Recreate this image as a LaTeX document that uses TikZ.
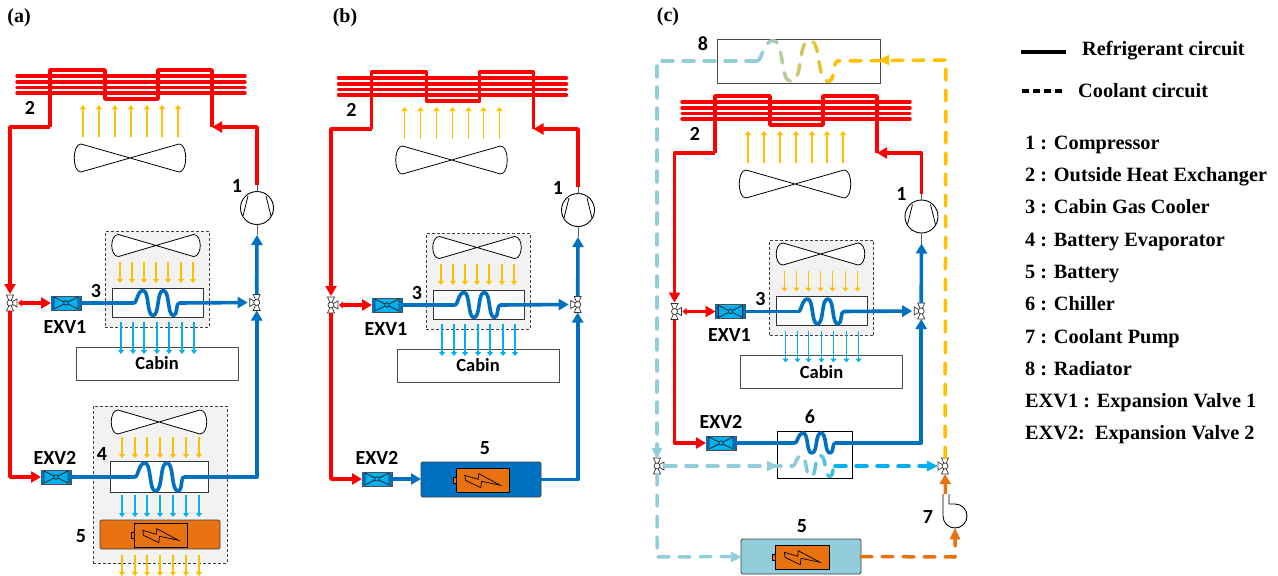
\documentclass[tikz,border=0pt]{standalone}
\usepackage{fontspec}
\setmainfont{Liberation Serif}
\newfontfamily\lblfont{Carlito}
\usetikzlibrary{arrows.meta,calc}
\definecolor{pred}{HTML}{FF0000}
\definecolor{pblue}{HTML}{0070C0}
\definecolor{pyel}{HTML}{FFC000}
\definecolor{psky}{HTML}{00B0F0}
\definecolor{plb}{HTML}{92CDDC}
\definecolor{porg}{HTML}{E97210}
\definecolor{pgray}{HTML}{F2F2F2}
\tikzset{
 redp/.style={draw=pred,line width=3.8pt,line join=round},
 bluep/.style={draw=pblue,line width=3.6pt,line join=round},
 tipR/.style={-{Triangle[length=10pt,width=11pt]}},
 tipRR/.style={{Triangle[length=4pt,width=7pt]}-{Triangle[length=10pt,width=11pt]}},
 coolp/.style={line width=3.5pt,line cap=round,line join=round,dash pattern=on 11pt off 10pt},
 yarrow/.style={draw=pyel,line width=1.5pt,-{Triangle[length=4pt,width=6pt]}},
 barrow/.style={draw=psky,line width=1.5pt,-{Triangle[length=4pt,width=6pt]}},
 lbl/.style={font=\lblfont\bfseries\fontsize{20}{20}\selectfont,inner sep=0pt},
 ttl/.style={font=\bfseries\fontsize{20}{20}\selectfont,inner sep=0pt},
 leg/.style={font=\bfseries\fontsize{20.3}{20}\selectfont,inner sep=0pt,anchor=base west},
 dbox/.style={draw=black!75,dashed,line width=.8pt,fill=pgray,dash pattern=on 3pt off 2pt},
 hxbox/.style={draw=black!80,line width=.9pt,fill=white},
 cabinbox/.style={draw=black!70,line width=.9pt,fill=white,font=\lblfont\bfseries\fontsize{18.5}{18}\selectfont},
 fanline/.style={draw=black,line width=.8pt,fill=white},
 stub/.style={draw=black!65,line width=.8pt}
}
% rectangle node by corners
\newcommand\bx[7]{%
 \pgfmathsetmacro\bxw{#4-#2}\pgfmathsetmacro\bxh{#5-#3}%
 \pgfmathsetmacro\bxx{(#4+#2)/2}\pgfmathsetmacro\bxy{(#5+#3)/2}%
 \node[#6,minimum width=\bxw pt,minimum height=\bxh pt,inner sep=0pt,outer sep=0pt] (#1) at (\bxx,\bxy) {#7};}
\newcommand\fan[4]{%
 \pgfmathsetmacro\fx{#3/2-7}\pgfmathsetmacro\fy{#4/2}\pgfmathsetmacro\fb{\fx+9}%
 \draw[fanline,shift={(#1,#2)}] (-\fx,-\fy) -- (\fx,\fy) .. controls (\fb,\fy) and (\fb,-\fy) .. (\fx,-\fy)
  -- (-\fx,\fy) .. controls (-\fb,\fy) and (-\fb,-\fy) .. (-\fx,-\fy) -- cycle;}
% valve: name,x,y,side(+1 right, -1 left)
\newcommand\valve[4]{%
 \node[minimum width=16pt,minimum height=16pt,inner sep=0pt,outer sep=0pt] (#1) at (#2,#3) {};
 \begin{scope}[shift={(#2,#3)}]
 \draw[fill=white,draw=black!80,line width=.7pt] (-3.5,-8) -- (3.5,-8) -- (0,0) -- cycle;
 \draw[fill=white,draw=black!80,line width=.7pt] (-3.5,8) -- (3.5,8) -- (0,0) -- cycle;
 \draw[fill=white,draw=black!80,line width=.7pt] (#4*7,-4) -- (#4*7,4) -- (0,0) -- cycle;
 \draw[fill=white,draw=black!80,line width=.7pt] (0,0) circle (3);
 \end{scope}}
\newcommand\exv[3]{%
 \node[draw=black!70,fill=psky,line width=.8pt,minimum width=30pt,minimum height=14pt,inner sep=0pt,outer sep=0pt] (#1) at (#2,#3) {};
 \begin{scope}[shift={(#2,#3)}]
 \fill[pblue] (-15,-7) rectangle (-12.5,7) (12.5,-7) rectangle (15,7);
 \draw[black!85,line width=.7pt] (-12,-6) -- (12,6) -- (12,-6) -- (-12,6) -- cycle;
 \draw[black!85,fill=psky,line width=.7pt] (0,0) circle (2.2);
 \end{scope}}
\newcommand\compressor[3]{%
 \node[circle,draw=black,line width=.9pt,fill=white,minimum size=33pt,inner sep=0pt,outer sep=0pt] (#1) at (#2,#3) {};
 \draw[black,line width=.8pt,shift={(#2,#3)}] (-9,-12) -- (-14,8) (9,-12) -- (14,8);}
% battery: name,x1,y1,x2,y2,fill,ix1,iy1,ix2
\newcommand\battery[9]{%
 \bx{#1}{#2}{#3}{#4}{#5}{draw=black!75,line width=.9pt,rounded corners=1.5pt,fill=#6}{}%
 \batteryinner{#1i}{#7}{#8}{#9}}
\newcommand\batteryinner[4]{%
 \pgfmathsetmacro\bix{(#2+#4)/2}%
 \pgfmathsetmacro\biy{#3+12}%
 \draw[black,fill=porg,line width=.6pt] (#2-2.5,\biy-3) rectangle (#2,\biy+3);
 \bx{#1}{#2}{#3}{#4}{#3+24}{draw=black,line width=.9pt,fill=porg}{}%
 \draw[black,line width=.7pt,shift={(\bix,\biy)}] (-17.7,-4.7) -- (-4.3,-.7) -- (-3.7,-6.3) -- (18,5.3) -- (-1,1.3) -- (-1.7,7.7) -- (-17,.3) -- cycle;}
% wave: startname,endname,x0,y,W,A,style
\newcommand\wavecurve{(0,0) .. controls (.06,0) and (.08,-1) .. (.2,-1) .. controls (.34,-1) and (.28,1) .. (.42,1) .. controls (.57,1) and (.5,-1) .. (.65,-1) .. controls (.8,-1) and (.73,1) .. (.88,1) .. controls (.97,1) and (.93,0) .. (1,0)}
\newcommand\hxwave[7]{%
 \coordinate (#1) at (#3,#4);
 \coordinate (#2) at ($(#3,#4)+(#5,0)$);
 \begin{scope}[shift={(#3,#4)},x=#5pt,y=-#6pt]
 \draw[#7] \wavecurve;
 \end{scope}}
% graded dashed wave: x0,y,W,A,color left,color right
\newcommand\gradwave[6]{%
 \foreach \i in {0,...,9}{%
  \pgfmathsetmacro\pc{\i*100/9}%
  \pgfmathsetmacro\cl{#1+\i*#3/10-.02}%
  \pgfmathsetmacro\cr{#1+(\i+1)*#3/10+.02}%
  \pgfmathsetmacro\ct{#2-#4-5}\pgfmathsetmacro\cb{#2+#4+5}%
  \begin{scope}
  \clip (\cl,\ct) rectangle (\cr,\cb);
  \begin{scope}[shift={(#1,#2)},x=#3pt,y=-#4pt]
  \draw[coolp,draw=#6!\pc!#5] \wavecurve;
  \end{scope}
  \end{scope}}}
\newcommand\condunit[1]{%
 \foreach \yy in {76,82,87.5,93}{\draw[draw=pred,line width=3.4pt,line cap=round] (17,\yy) -- (245,\yy);}
 \coordinate (#1-out) at (50,127);
 \coordinate (#1-in) at (212,127);
 \draw[redp] (#1-out) -- (50,70) -- (105,70) -- (105,99) -- (158,99) -- (158,70) -- (212,70) -- (#1-in);
 \foreach \xx in {83,99,115,131,147,162,178}{\draw[yarrow] (\xx,137) -- (\xx,105);}
 \fan{130}{158}{112}{28}
 \node[lbl] (#1-l2) at (30,108) {2};
}
\newcommand\cabinunit[1]{%
 \bx{#1-box3}{105}{231.5}{209}{327}{dbox}{}
 \fan{156}{245.5}{89}{22}
 \foreach \xx in {120,132,144,156,168,181,193}{\draw[yarrow] (\xx,262) -- (\xx,283);}
 \bx{#1-cabin}{76}{347}{238}{380}{cabinbox}{Cabin}
 \bx{#1-hx3}{112}{288}{203}{317}{hxbox}{}
 \foreach \xx in {121,133,144,157,169,182,194}{\draw[barrow] (\xx,322) -- (\xx,354);}
 \compressor{#1-comp}{257}{208}
 \coordinate (#1-compt) at (257,185);
 \coordinate (#1-compb) at (257,235);
 \draw[stub] (#1-comp.north) -- (#1-compt);
 \draw[stub] (#1-comp.south) -- (#1-compb);
 \valve{#1-lv}{10}{303}{1}
 \valve{#1-rv}{256.7}{302.5}{-1}
 \exv{#1-exv1}{66}{303}
 \hxwave{#1-w3a}{#1-w3b}{134}{303}{45}{12.5}{bluep,line cap=round}
 \draw[bluep] (#1-exv1.east) -- (#1-w3a);
 \draw[bluep,tipR,shorten >=1pt] (#1-w3b) -- (#1-rv.west);
 \draw[redp,tipRR] (#1-lv.east) -- (#1-exv1.west);
 \draw[bluep,tipR] (#1-rv.north) -- (#1-compb);
 \node[lbl] (#1-l1) at (237,186) {1};
 \node[lbl] (#1-l3) at (96,291) {3};
 \node[lbl] (#1-lexv1) at (65,327) {EXV1};
}
\begin{document}
\begin{tikzpicture}[x=1pt,y=-1pt]
\useasboundingbox (0,0) rectangle (1278,576);
\fill[white] (0,0) rectangle (1278,576);
%%%%%%%% (a)
\node[ttl] (ta) at (19,18) {(a)};
\begin{scope}\condunit{a}\end{scope}
\begin{scope}\cabinunit{a}\end{scope}
\bx{a-box4}{93}{406}{227}{563}{dbox}{}
\fan{159}{422}{96}{24}
\foreach \xx in {122,135,147,160,173,186,199}{\draw[yarrow] (\xx,437) -- (\xx,458);}
\bx{a-hx4}{110}{461}{208}{492}{hxbox}{}
\foreach \xx in {122,135,147,160,173,186,199}{\draw[barrow] (\xx,495) -- (\xx,517);}
\battery{a-bat}{100}{520}{220}{549}{porg}{134}{523}{187}
\foreach \xx in {122,135,147,160,173,186,199}{\draw[yarrow] (\xx,555) -- (\xx,576);}
\exv{a-exv2}{56}{477}
\hxwave{a-w4a}{a-w4b}{135}{477}{49}{14}{bluep,line cap=round}
\draw[redp,tipR] (a-lv.south) |- (a-exv2.west);
\draw[bluep] (a-exv2.east) -- (a-w4a);
\draw[bluep,tipR] (a-w4b) -| (a-rv.south);
\draw[redp,tipR] (a-compt) |- (a-in);
\draw[redp,tipR,shorten >=1pt] (a-out) -| (a-lv.north);
\node[lbl] (a-l4) at (102,454) {4};
\node[lbl] (a-l5) at (81,536) {5};
\node[lbl] (a-lexv2) at (55,458) {EXV2};
%%%%%%%% (b)
\node[ttl] (tb) at (345,18) {(b)};
\begin{scope}[shift={(321.5,2)}]\condunit{b}\end{scope}
\begin{scope}[shift={(321,2)}]\cabinunit{b}\end{scope}
\exv{b-exv2}{377}{479}
\battery{b-bat}{421}{462}{541}{497}{pblue}{456}{468}{509}
\draw[redp,tipR] (b-lv.south) |- (b-exv2.west);
\draw[bluep,tipR] (b-exv2.east) -- (b-exv2.east -| b-bat.west);
\draw[bluep,tipR] (b-bat.east) -| (b-rv.south);
\draw[redp,tipR] (b-compt) |- (b-in);
\draw[redp,tipR,shorten >=1pt] (b-out) -| (b-lv.north);
\node[lbl] (b-l5) at (485,448) {5};
\node[lbl] (b-lexv2) at (377,458) {EXV2};
%%%%%%%% (c)
\node[ttl] (tc) at (668,17) {(c)};
\bx{c-rad}{717}{39}{880}{83}{draw=black!70,line width=.9pt}{}
\node[lbl] (c-l8) at (703,44) {8};
\begin{scope}[shift={(665,26)}]\condunit{c}\end{scope}
\begin{scope}[shift={(664.5,8.5)}]\cabinunit{c}\end{scope}
% chiller
\bx{c-chil}{777}{431}{852}{478}{draw=black,line width=.9pt,fill=white}{}
\exv{c-exv2}{721}{443}
\hxwave{c-w6a}{c-w6b}{795}{443}{40}{10}{bluep,line cap=round}
\draw[redp,tipR] (c-lv.south) |- (c-exv2.west);
\draw[bluep] (c-exv2.east) -- (c-w6a);
\draw[bluep,tipR] (c-w6b) -| (c-rv.south);
\draw[redp,tipR] (c-compt) |- (c-in);
\draw[redp,tipR,shorten >=1pt] (c-out) -| (c-lv.north);
% coolant side
\valve{c-cv1}{657}{466}{1}
\valve{c-cv2}{945}{466}{-1}
\battery{c-bat}{741}{539}{861}{574}{plb}{775}{545}{829}
% pump
\coordinate (c-pumpo) at (945.5,494);
\coordinate (c-pumpi) at (955,529);
\draw[black,line width=.9pt,fill=white] (949,494) -- (949,504) -- (955,504) .. controls (961.6,504) and (967,509.4) .. (967,516) .. controls (967,522.6) and (961.6,528) .. (955,528) .. controls (948.4,528) and (943,522.6) .. (943,516) -- (943,494);
\node[minimum size=1pt,inner sep=0pt] (c-pump) at (955,516) {};
% radiator wave
\coordinate (c-r8a) at (757,61);
\coordinate (c-r8b) at (838,61);
\gradwave{757}{61}{81}{20.5}{plb}{pyel}
\coordinate (c-corner1) at (657,61);
\coordinate (c-corner2) at (946,60);
\draw[coolp,draw=pyel] (c-cv2.north) -- (c-corner2) -- (c-r8b);
\draw[draw=pyel,fill=pyel] (879,60) -- (889,55) -- (889,65) -- cycle;
\draw[coolp,draw=plb] (c-r8a) -- (c-corner1) -- (c-cv1.north);
\draw[draw=plb,fill=plb,line width=.5pt] (657,458) -- (652,448) -- (662,448) -- cycle;
\coordinate (c-low) at (657,557);
\draw[coolp,draw=plb,shorten >=8pt] (c-cv1.south) -- (c-low) -- (c-bat.west);
\draw[draw=plb,fill=plb,line width=.5pt] (741,557) -- (731,552) -- (731,562) -- cycle;
% chiller coolant
\coordinate (c-wa) at (793,466);
\coordinate (c-wb) at (835,466);
\draw[coolp,draw=plb] (c-cv1.east) -- (c-wa);
\draw[draw=plb,fill=plb,line width=.5pt] (777,466) -- (767,461) -- (767,471) -- cycle;
\gradwave{793}{466}{42}{10.5}{plb}{psky!60!plb}
\draw[coolp,draw=psky,shorten >=6pt] (c-wb) -- (c-cv2.west);
\draw[draw=psky,fill=psky,line width=.5pt] (937,466) -- (927,461) -- (927,471) -- cycle;
% orange
\draw[draw=porg,line width=3.5pt,-{Triangle[length=10pt,width=11pt]}] (c-pumpo) -- (c-cv2.south);
\coordinate (c-orcorner) at (955,557);
\draw[coolp,draw=porg,shorten >=10pt] (c-bat.east) -- (c-orcorner) -- (c-pumpi);
\draw[draw=porg,fill=porg,line width=.5pt] (955,529) -- (950,539) -- (960,539) -- cycle;
\node[lbl] (c-l5) at (802,526) {5};
\node[lbl] (c-l6) at (810,417) {6};
\node[lbl] (c-l7) at (928,517) {7};
\node[lbl] (c-lexv2) at (721,422) {EXV2};
%%%%%%%% legend
\coordinate (lg1a) at (1021,52);
\coordinate (lg1b) at (1066,52);
\coordinate (lg2a) at (1022,91);
\coordinate (lg2b) at (1064,91);
\draw[black,line width=3.2pt] (lg1a) -- (lg1b);
\draw[black,line width=3.2pt,dash pattern=on 7pt off 4pt] (lg2a) -- (lg2b);
\node[leg] (k0) at (1082,55) {Refrigerant circuit};
\node[leg] (k00) at (1078,97) {Coolant circuit};
\node[leg] (k1) at (1025,149) {1 : Compressor};
\node[leg] (k2) at (1025,181) {2 : Outside Heat Exchanger};
\node[leg] (k3) at (1025,213) {3 : Cabin Gas Cooler};
\node[leg] (k4) at (1025,246) {4 : Battery Evaporator};
\node[leg] (k5) at (1025,278) {5 : Battery};
\node[leg] (k6) at (1025,310) {6 : Chiller};
\node[leg] (k7) at (1025,343) {7 : Coolant Pump};
\node[leg] (k8) at (1025,375) {8 : Radiator};
\node[leg] (k9) at (1025,407) {EXV1 : Expansion Valve 1};
\node[leg] (k10) at (1025,439) {EXV2:\ \ Expansion Valve 2};
\end{tikzpicture}
\end{document}
